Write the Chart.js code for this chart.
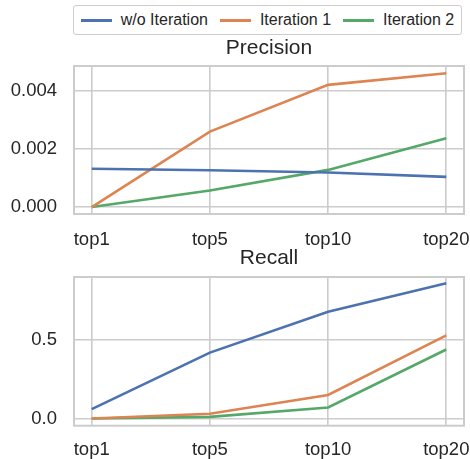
<!DOCTYPE html>
<html>
<head>
<meta charset="utf-8">
<script src="https://cdn.jsdelivr.net/npm/chart.js@4.4.1/dist/chart.umd.min.js"></script>
<style>
  body { margin: 0; background: #fff; font-family: "Liberation Sans", Arial, sans-serif; }
  #wrap { position: relative; width: 470px; height: 459px; overflow: hidden; }
  .box { position: absolute; left: 0; width: 470px; }
  #legend {
    position: absolute; left: 73px; top: 5px; width: 387px; height: 28px;
    border: 1.5px solid #cccccc; border-radius: 3px; background: #fff;
    display: flex; align-items: center; justify-content: center;
    font-size: 16px; color: #262626;
  }
  .item { display: flex; align-items: center; margin: 0 6px; }
  .swatch { width: 31px; height: 3px; margin-right: 9px; }
</style>
</head>
<body>
<div id="wrap">
  <div id="legend"></div>
  <div class="box" style="top:30px;height:230px"><canvas id="precChart"></canvas></div>
  <div class="box" style="top:240px;height:219px"><canvas id="recChart"></canvas></div>
</div>
<script>
(() => {
  'use strict'

  const categories = ['top1', 'top5', 'top10', 'top20'];
  const seriesNames = ['w/o Iteration', 'Iteration 1', 'Iteration 2'];
  const colors = ['#4C72B0', '#DD8452', '#55A868'];

  // Precision
  const precWo = [0.00132, 0.00127, 0.00119, 0.00104];
  const precIt1 = [0, 0.0026, 0.00421, 0.00461];
  const precIt2 = [0, 0.00057, 0.00128, 0.00237];
  const precTicks = [0, 0.002, 0.004];

  // Recall
  const recWo = [0.06, 0.42, 0.68, 0.862];
  const recIt1 = [0, 0.03, 0.15, 0.53];
  const recIt2 = [0, 0.01, 0.07, 0.44];
  const recTicks = [0, 0.5];

  const textColor = '#262626';
  const gridColor = '#cccccc';
  const font = '"Liberation Sans", Arial, sans-serif';

  // legend (shared by both panels)
  const legend = document.getElementById('legend');
  seriesNames.forEach((name, i) => {
    const item = document.createElement('div');
    item.className = 'item';
    const sw = document.createElement('div');
    sw.className = 'swatch';
    sw.style.background = colors[i];
    const label = document.createElement('span');
    label.textContent = name;
    item.appendChild(sw);
    item.appendChild(label);
    legend.appendChild(item);
  });

  // full frame round the plot area, like the seaborn spines
  const frame = {
    id: 'frame',
    afterDatasetsDraw(chart) {
      const a = chart.chartArea;
      const c = chart.ctx;
      c.save();
      c.strokeStyle = gridColor;
      c.lineWidth = 2;
      c.strokeRect(a.left, a.top, a.right - a.left, a.bottom - a.top);
      c.restore();
    }
  };

  function makeChart(id, title, series, ticks, yMin, yMax, digits, xHeight, xPad, titlePad) {
    return new Chart(document.getElementById(id), {
      type: 'line',
      data: {
        datasets: series.map((vals, i) => ({
          label: seriesNames[i],
          data: vals.map((v, j) => ({ x: j, y: v })),
          borderColor: colors[i],
          backgroundColor: colors[i],
          borderWidth: 2.6,
          pointRadius: 0,
          tension: 0
        }))
      },
      options: {
        responsive: true,
        maintainAspectRatio: false,
        animation: false,
        layout: { padding: { left: 0, right: 6, top: 0, bottom: 0 } },
        plugins: {
          legend: { display: false },
          tooltip: { enabled: false },
          title: {
            display: true,
            fullSize: false,
            text: title,
            color: textColor,
            font: { family: font, size: 21, weight: 'normal' },
            padding: titlePad
          }
        },
        scales: {
          x: {
            type: 'linear',
            min: -0.15,
            max: 3.15,
            afterBuildTicks: s => { s.ticks = categories.map((c, i) => ({ value: i })); },
            afterFit: s => { s.height = xHeight; s.paddingLeft = 0; s.paddingRight = 0; },
            ticks: {
              color: textColor,
              font: { family: font, size: 18.5 },
              padding: xPad,
              maxRotation: 0,
              callback: v => categories[v]
            },
            grid: { color: gridColor, lineWidth: 1.6, drawTicks: false },
            border: { display: false }
          },
          y: {
            min: yMin,
            max: yMax,
            afterBuildTicks: s => { s.ticks = ticks.map(v => ({ value: v })); },
            afterFit: s => { s.width = 74; },
            ticks: {
              color: textColor,
              font: { family: font, size: 18.5 },
              padding: 17,
              callback: v => v.toFixed(digits)
            },
            grid: { color: gridColor, lineWidth: 1.6, drawTicks: false },
            border: { display: false }
          }
        }
      },
      plugins: [frame]
    });
  }

  makeChart('precChart', 'Precision', [precWo, precIt1, precIt2], precTicks,
    -0.00024, 0.00486, 3, 46, 15, { top: 6, bottom: 4.8 });
  makeChart('recChart', 'Recall', [recWo, recIt1, recIt2], recTicks,
    -0.046, 0.902, 1, 33.3, 13, { top: 5.2, bottom: 6.6 });
})()
</script>
</body>
</html>
